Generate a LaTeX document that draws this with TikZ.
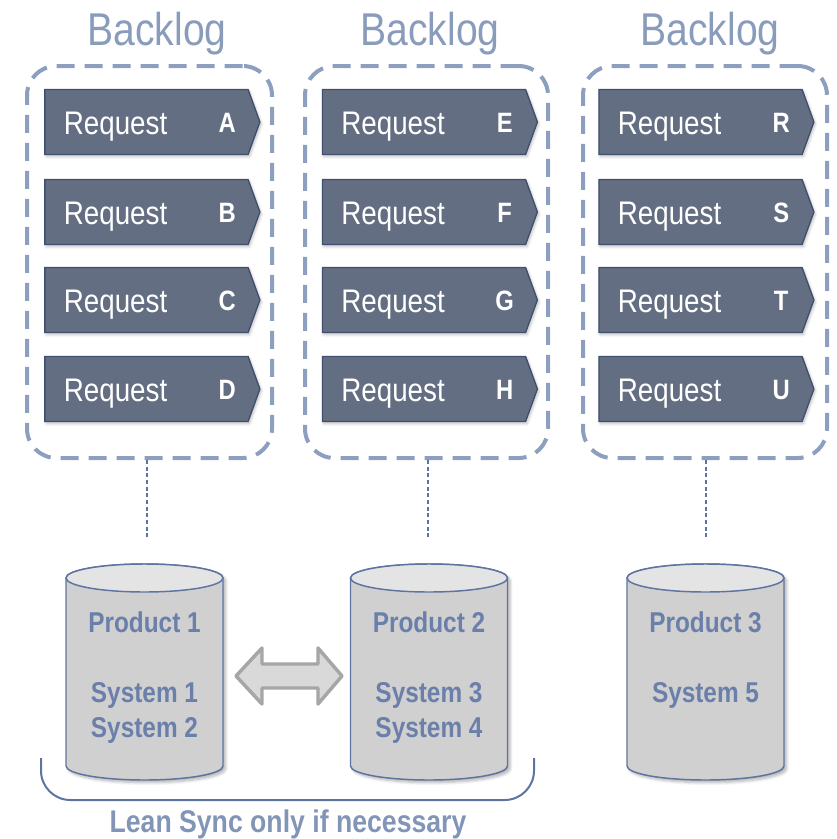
\documentclass[tikz,border=0pt]{standalone}
\usepackage{fontspec}
\setmainfont{Liberation Sans}[FakeStretch=0.85]
\usetikzlibrary{shapes.symbols,shadows,shadows.blur}
\definecolor{titleblue}{HTML}{8A9CBB}
\definecolor{dashblue}{HTML}{8D9FBF}
\definecolor{reqfill}{HTML}{646E82}
\definecolor{reqline}{HTML}{3F4F6E}
\definecolor{prodtext}{HTML}{6A7FAA}
\definecolor{cylfill}{HTML}{D0D0D0}
\definecolor{cyltop}{HTML}{E4E4E4}
\definecolor{cylline}{HTML}{5E74A0}
\definecolor{arrfill}{HTML}{D9D9D9}
\definecolor{arrline}{HTML}{A6A6A6}
\definecolor{synctext}{HTML}{8395B7}
\begin{document}
\begin{tikzpicture}[x=0.75pt,y=-0.75pt,
  title/.style={font=\fontsize{34.5}{40}\selectfont, text=titleblue, anchor=base, inner sep=0pt},
  backlogbox/.style={draw=dashblue, line width=3pt, dash pattern=on 13.5pt off 7.5pt, rounded corners=22pt, minimum height=294pt, inner sep=0pt},
  req/.style={signal, signal to=east, signal pointer angle=140, fill=reqfill, draw=reqline, line width=1pt,
    minimum width=161.25pt, minimum height=48.75pt, inner sep=0pt,
    blur shadow={shadow xshift=1pt, shadow yshift=-1.5pt, shadow blur steps=6, shadow opacity=25}},
  reqtxt/.style={font=\fontsize{24.5}{28}\selectfont, text=white, anchor=base west, inner sep=0pt},
  reqlet/.style={font=\bfseries\fontsize{21}{25}\selectfont, text=white, anchor=base, inner sep=0pt},
  link/.style={draw=cylline, line width=1.1pt, dash pattern=on 3pt off 2pt},
  cyl/.style={draw=cylline, line width=1.1pt},
  prod/.style={font=\bfseries\fontsize{21.5}{25}\selectfont, text=prodtext, anchor=base, inner sep=0pt},
  sync/.style={font=\bfseries\fontsize{23.5}{28}\selectfont, text=synctext, anchor=base, inner sep=0pt}
]
\useasboundingbox (0,0) rectangle (836,839);

% titles
\node[title] (t1) at (157,45) {Backlog};
\node[title] (t2) at (430,45) {Backlog};
\node[title] (t3) at (710,45) {Backlog};

% backlog boxes
\node[backlogbox, minimum width=183.75pt] (b1) at (149.5,262) {};
\node[backlogbox, minimum width=182.25pt] (b2) at (426.5,262) {};
\node[backlogbox, minimum width=183pt] (b3) at (705,262) {};

% requests
\foreach \cx/\L/\y in {146.5/A/122, 146.5/B/212, 146.5/C/300, 146.5/D/389,
                       424/E/122, 424/F/212, 424/G/300, 424/H/389,
                       700.5/R/122, 700.5/S/212, 700.5/T/300, 700.5/U/389} {
  \node[req] (r\L) at (\cx,\y) {};
  \node[reqtxt] (q\L) at ([xshift=14.5pt,yshift=-9pt]r\L.west) {Request};
  \node[reqlet] (l\L) at ([xshift=137.25pt,yshift=-8pt]r\L.west) {\L};
}

% dotted links
\coordinate (d1) at (147,538);
\coordinate (d2) at (428,538);
\coordinate (d3) at (706,538);
\draw[link] (d1 |- b1.south) -- (d1);
\draw[link] (d2 |- b2.south) -- (d2);
\draw[link] (d3 |- b3.south) -- (d3);

% cylinders
\foreach \cx/\n in {144.5/1, 429/2, 705.5/3} {
  \begin{scope}[xshift=\cx*0.75pt]
    \path[blur shadow={shadow xshift=2pt, shadow yshift=-2pt, shadow blur steps=6, shadow opacity=30}]
      (-78.5,578) -- (-78.5,766) arc[start angle=180, end angle=360, x radius=58.875pt, y radius=10.5pt]
      -- (78.5,578) arc[start angle=0, end angle=180, x radius=58.875pt, y radius=10.5pt] -- cycle;
    \filldraw[cyl, fill=cylfill]
      (-78.5,578) -- (-78.5,766) arc[start angle=180, end angle=360, x radius=58.875pt, y radius=10.5pt]
      -- (78.5,578) arc[start angle=0, end angle=180, x radius=58.875pt, y radius=10.5pt] -- cycle;
    \filldraw[cyl, fill=cyltop] (0,578) ellipse[x radius=58.875pt, y radius=10.5pt];
    \node[inner sep=0pt, minimum width=117.75pt, minimum height=152pt] (c\n) at (0,672) {};
  \end{scope}
}

\node[prod] (p1) at (c1 |- 0,632) {Product 1};
\node[prod] (s1) at (c1 |- 0,702) {System 1};
\node[prod] (s2) at (c1 |- 0,737) {System 2};
\node[prod] (p2) at (c2 |- 0,632) {Product 2};
\node[prod] (s3) at (c2 |- 0,702) {System 3};
\node[prod] (s4) at (c2 |- 0,737) {System 4};
\node[prod] (p3) at (c3 |- 0,632) {Product 3};
\node[prod] (s5) at (c3 |- 0,702) {System 5};

% double arrow
\filldraw[draw=arrline, fill=arrfill, line width=2.6pt, line join=round]
  (236,676) -- (262,648) -- (262,664) -- (318,664) -- (318,648) -- (342,676)
  -- (318,704) -- (318,688) -- (262,688) -- (262,704) -- cycle;

% bracket
\coordinate (k1) at (41,758);
\coordinate (k2) at (534,758);
\draw[draw=cylline, line width=1.5pt, rounded corners=22pt] (k1) -- (41,800) -- (534,800) -- (k2);

\node[sync] (sy) at (288,832) {Lean Sync only if necessary};
\end{tikzpicture}
\end{document}
